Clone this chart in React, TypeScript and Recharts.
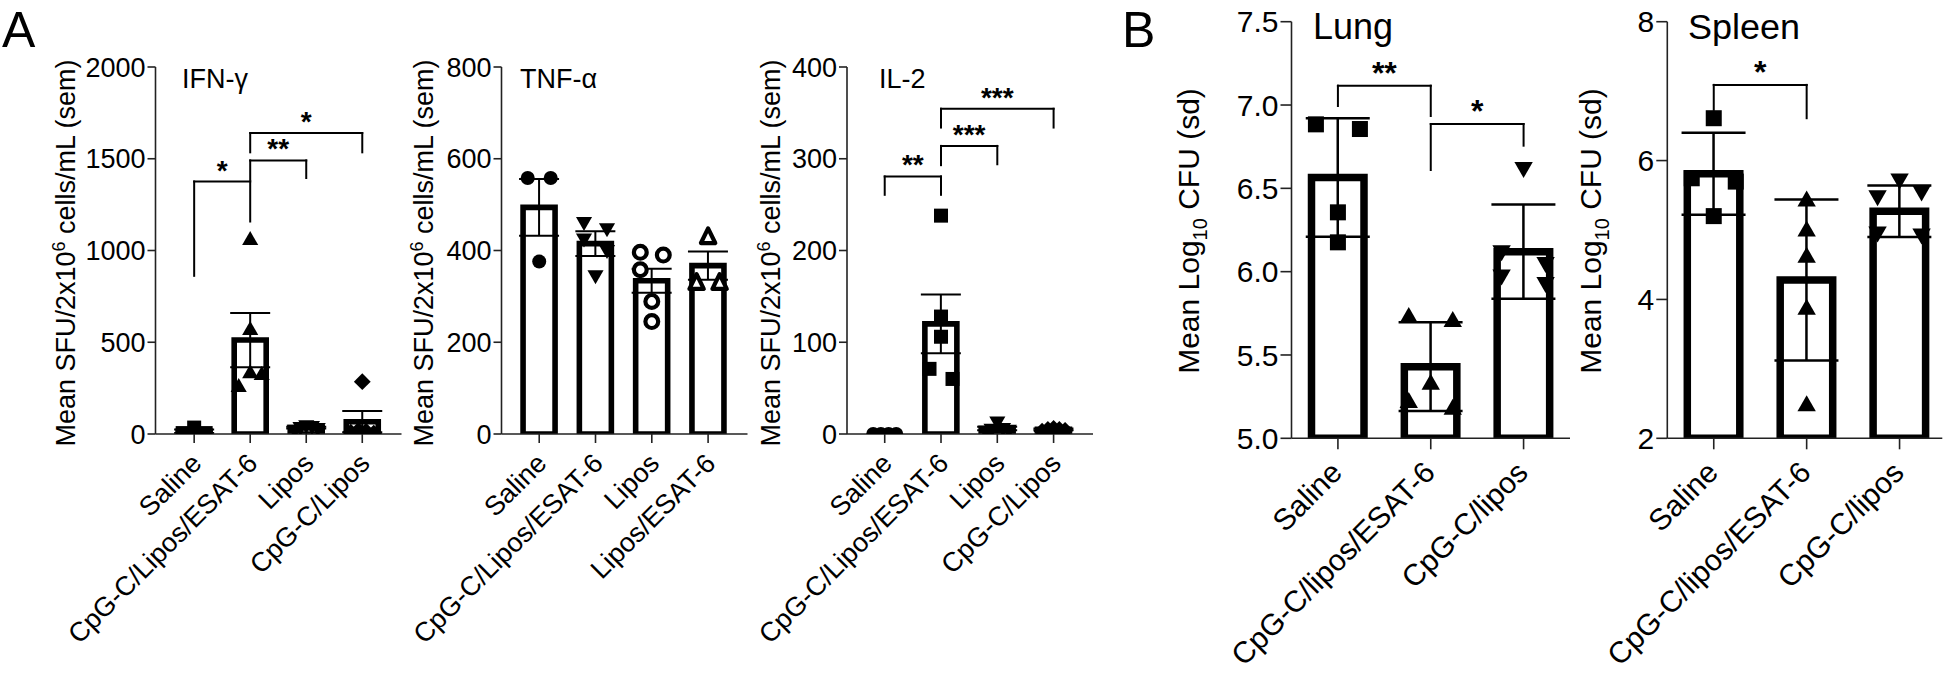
import React from 'react';
import { ComposedChart, Bar, ErrorBar, Scatter, XAxis, YAxis, ReferenceLine } from 'recharts';

const FONT = '"Liberation Sans", Arial, Helvetica, sans-serif';
const PAGE_H = 674;

// ---------------- data ----------------
const ifnCategories = ['Saline', 'CpG-C/Lipos/ESAT-6', 'Lipos', 'CpG-C/Lipos'];
const ifnMeans = [15, 512, 35, 67];
const ifnSem = [10, 148, 5, 58];
const ifnPoints = [[35, 5, 5], [1060, 570, 335, 325, 260], [45, 40, 30, 20, 35], [285, 20, 10, 5, 15]];
const ifnMarkers = ['square', 'triangle', 'triangleDown', 'diamond'];
const ifnTicks = [0, 500, 1000, 1500, 2000];

const tnfCategories = ['Saline', 'CpG-C/Lipos/ESAT-6', 'Lipos', 'Lipos/ESAT-6'];
const tnfMeans = [494, 415, 334, 367];
const tnfSem = [62, 27, 26, 31];
const tnfPoints = [[558, 558, 376], [461, 447, 425, 400, 345], [396, 390, 358, 289, 245], [430, 330, 330]];
const tnfMarkers = ['circle', 'triangleDown', 'circleOpen', 'triangleOpen'];
const tnfTicks = [0, 200, 400, 600, 800];

const il2Categories = ['Saline', 'CpG-C/Lipos/ESAT-6', 'Lipos', 'CpG-C/Lipos'];
const il2Means = [0, 120, 6, 5];
const il2Sem = [0, 32, 2, 1];
const il2Points = [[0, 0, 0, 0], [238, 128, 106, 71, 60], [13, 6, 5, 4, 3], [5, 6, 4, 5, 3]];
const il2Markers = ['circle', 'square', 'triangleDown', 'diamond'];
const il2Ticks = [0, 100, 200, 300, 400];

const lungCategories = ['Saline', 'CpG-C/lipos/ESAT-6', 'CpG-C/lipos'];
const lungMeans = [6.565, 5.43, 6.12];
const lungSd = [0.356, 0.266, 0.283];
const lungPoints = [[6.884, 6.856, 6.356, 6.176], [5.73, 5.706, 5.33, 5.22, 5.18], [6.62, 6.12, 6.05, 5.974, 5.93]];
const lungMarkers = ['square', 'triangle', 'triangleDown'];
const lungTicks = [5.0, 5.5, 6.0, 6.5, 7.0, 7.5];

const spleenCategories = ['Saline', 'CpG-C/lipos/ESAT-6', 'CpG-C/lipos'];
const spleenMeans = [5.81, 4.28, 5.27];
const spleenSd = [0.59, 1.16, 0.37];
const spleenPoints = [[6.61, 5.745, 5.697, 5.2], [5.43, 5.0, 4.62, 3.87, 2.48], [5.72, 5.55, 5.48, 4.96, 4.93]];
const spleenMarkers = ['square', 'triangle', 'triangleDown'];
const spleenTicks = [2, 4, 6, 8];

type Bracket = { from: number; to: number; y: number; yFrom: number; yTo: number; label: string };

const ifnBrackets: Bracket[] = [
  { from: 0, to: 1, y: 1376, yFrom: 862, yTo: 1158, label: '*' },
  { from: 1, to: 2, y: 1491, yFrom: 1385, yTo: 1395, label: '**' },
  { from: 1, to: 3, y: 1640, yFrom: 1535, yTo: 1535, label: '*' },
];
const il2Brackets: Bracket[] = [
  { from: 0, to: 1, y: 280.7, yFrom: 260.7, yTo: 260.7, label: '**' },
  { from: 1, to: 2, y: 314, yFrom: 293, yTo: 294, label: '***' },
  { from: 1, to: 3, y: 354.5, yFrom: 334, yTo: 334, label: '***' },
];
const lungBrackets: Bracket[] = [
  { from: 0, to: 1, y: 7.116, yFrom: 6.994, yTo: 6.934, label: '**' },
  { from: 1, to: 2, y: 6.886, yFrom: 6.61, yTo: 6.756, label: '*' },
];
const spleenBrackets: Bracket[] = [
  { from: 0, to: 1, y: 7.09, yFrom: 6.73, yTo: 6.61, label: '*' },
];

// ---------------- helpers ----------------
function swarmOffsets(values: number[], pxPerUnit: number, thr: number, spread: number): number[] {
  const order = values.map((_, i) => i).sort((a, b) => values[b] - values[a]);
  const slot: number[] = new Array(values.length).fill(0);
  const placed: number[] = [];
  const cands = [0, 1, -1, 2, -2, 3, -3, 4, -4];
  for (const i of order) {
    for (const c of cands) {
      const clash = placed.some((j) => slot[j] === c && Math.abs(values[j] - values[i]) * pxPerUnit < thr);
      if (!clash) { slot[i] = c; break; }
    }
    placed.push(i);
  }
  const offsets: number[] = new Array(values.length).fill(0);
  let cluster: number[] = [];
  const flush = () => {
    if (!cluster.length) return;
    const ss = cluster.map((j) => slot[j]);
    const mn = Math.min(...ss);
    const mx = Math.max(...ss);
    cluster.forEach((j) => {
      offsets[j] = mx === mn ? 0 : ((slot[j] - (mn + mx) / 2) / (mx - mn)) * spread;
    });
    cluster = [];
  };
  order.forEach((i, k) => {
    if (k > 0 && Math.abs(values[order[k - 1]] - values[i]) * pxPerUnit >= thr) flush();
    cluster.push(i);
  });
  flush();
  return offsets;
}

function Marker({ cx, cy, kind, s }: { cx: number; cy: number; kind: string; s: number }) {
  const r = s / 2;
  if (kind === 'square') return <rect x={cx - r} y={cy - r} width={s} height={s} fill="#000" />;
  if (kind === 'circle') return <circle cx={cx} cy={cy} r={r} fill="#000" />;
  if (kind === 'circleOpen') {
    const sw = s * 0.3;
    return <circle cx={cx} cy={cy} r={r + 1.5 - sw / 2} fill="#fff" stroke="#000" strokeWidth={sw} />;
  }
  if (kind === 'diamond') {
    const d = r * 1.2;
    return <polygon points={`${cx},${cy - d} ${cx + d},${cy} ${cx},${cy + d} ${cx - d},${cy}`} fill="#000" />;
  }
  const w = r * 1.15;
  const h = s * 1.0;
  if (kind === 'triangle') {
    return <polygon points={`${cx},${cy - h * 0.6} ${cx + w},${cy + h * 0.4} ${cx - w},${cy + h * 0.4}`} fill="#000" />;
  }
  if (kind === 'triangleDown') {
    return <polygon points={`${cx},${cy + h * 0.6} ${cx + w},${cy - h * 0.4} ${cx - w},${cy - h * 0.4}`} fill="#000" />;
  }
  const sw = s * 0.3;
  const w2 = w * 1.15;
  return (
    <polygon
      points={`${cx},${cy - h * 0.6} ${cx + w2 - sw / 2},${cy + h * 0.45} ${cx - w2 + sw / 2},${cy + h * 0.45}`}
      fill="#fff" stroke="#000" strokeWidth={sw} strokeLinejoin="round"
    />
  );
}

type PanelProps = {
  plotLeft: number; plotTop: number; plotWidth: number; plotHeight: number;
  xDomain: [number, number]; yDomain: [number, number]; yTicks: number[];
  yFmt: (v: number) => string;
  categories: string[]; means: number[]; errs: number[]; points: number[][]; markers: string[];
  brackets: Bracket[];
  barSize: number; barStroke: number; capWidth: number; errStroke: number;
  markerSize: number; swarmThr: number; swarmSpread: number;
  yTickSize: number; xTickSize: number; yTickFont: number; xTickFont: number;
  xLabelDx: number; xLabelDy: number;
  yLabel: React.ReactNode; yLabelX: number; yLabelY: number; yLabelFont: number;
  title: string; titleX: number; titleY: number; titleFont: number;
  starFont: number; starGap: number;
  letter?: { text: string; x: number; y: number; size: number };
};

function Panel(p: PanelProps) {
  const barData = p.means.map((m, i) => ({ x: i, mean: m, err: p.errs[i] }));
  const pxPerY = p.plotHeight / (p.yDomain[1] - p.yDomain[0]);
  const pxPerX = p.plotWidth / (p.xDomain[1] - p.xDomain[0]);
  const scatterData = p.points.flatMap((vals, i) => {
    const offs = swarmOffsets(vals, pxPerY, p.swarmThr, p.swarmSpread);
    return vals.map((v, k) => ({ x: i + offs[k] / pxPerX, y: v, kind: p.markers[i] }));
  });
  const YW = 60;
  const XH = 30;
  const width = p.plotLeft + p.plotWidth + 40;
  const margin = {
    top: p.plotTop,
    right: 40,
    left: p.plotLeft - YW,
    bottom: PAGE_H - p.plotTop - p.plotHeight - XH,
  };
  const xTicks = p.categories.map((_, i) => i);
  const axisStroke = '#222';

  const renderXTick = (props: any) => {
    const { x, y, payload } = props;
    const label = p.categories[Math.round(payload.value)];
    return (
      <text
        x={0} y={0}
        transform={`translate(${x + p.xLabelDx},${y + p.xLabelDy}) rotate(-45)`}
        textAnchor="end" fontSize={p.xTickFont} fontFamily={FONT} fill="#000"
      >
        {label}
      </text>
    );
  };

  const renderLabels = () => (
    <g>
      <text
        transform={`translate(${p.yLabelX},${p.yLabelY}) rotate(-90)`}
        textAnchor="middle" fontSize={p.yLabelFont} fontFamily={FONT} fill="#000"
        style={{ whiteSpace: 'pre' }}
      >
        {p.yLabel}
      </text>
      <text x={p.titleX} y={p.titleY} fontSize={p.titleFont} fontFamily={FONT} fill="#000">{p.title}</text>
      {p.letter ? (
        <text x={p.letter.x} y={p.letter.y} fontSize={p.letter.size} fontFamily={FONT} fill="#000">{p.letter.text}</text>
      ) : null}
    </g>
  );

  return (
    <div style={{ position: 'absolute', left: 0, top: 0 }}>
      <ComposedChart width={width} height={PAGE_H} data={barData} margin={margin}>
        <XAxis
          dataKey="x" type="number" domain={p.xDomain} ticks={xTicks} interval={0}
          allowDataOverflow height={XH}
          tickSize={p.xTickSize} tickMargin={0}
          tick={renderXTick}
          axisLine={{ stroke: axisStroke, strokeWidth: 1.6 }}
          tickLine={{ stroke: axisStroke, strokeWidth: 1.6 }}
        />
        <XAxis xAxisId="s" dataKey="x" type="number" domain={p.xDomain} allowDataOverflow hide />
        <YAxis
          type="number" domain={p.yDomain} ticks={p.yTicks} interval={0} allowDataOverflow
          width={YW} tickSize={p.yTickSize} tickMargin={2}
          tickFormatter={p.yFmt}
          tick={{ fontSize: p.yTickFont, fontFamily: FONT, fill: '#000' }}
          axisLine={{ stroke: axisStroke, strokeWidth: 1.6 }}
          tickLine={{ stroke: axisStroke, strokeWidth: 1.6 }}
          label={renderLabels}
        />
        <Bar
          dataKey="mean" barSize={p.barSize} fill="#fff" stroke="#000" strokeWidth={p.barStroke}
          isAnimationActive={false}
        >
          <ErrorBar dataKey="err" width={p.capWidth} stroke="#000" strokeWidth={p.errStroke} direction="y" />
        </Bar>
        <Scatter
          xAxisId="s" data={scatterData} dataKey="y" isAnimationActive={false}
          shape={(sp: any) => <Marker cx={sp.cx} cy={sp.cy} kind={sp.payload.kind} s={p.markerSize} />}
        />
        {p.brackets.map((b, bi) => (
          <ReferenceLine
            key={`l${bi}`} segment={[{ x: b.from, y: b.yFrom }, { x: b.from, y: b.y }]}
            stroke="#000" strokeWidth={2} strokeLinecap="square" ifOverflow="visible"
          />
        ))}
        {p.brackets.map((b, bi) => (
          <ReferenceLine
            key={`r${bi}`} segment={[{ x: b.to, y: b.yTo }, { x: b.to, y: b.y }]}
            stroke="#000" strokeWidth={2} strokeLinecap="square" ifOverflow="visible"
          />
        ))}
        {p.brackets.map((b, bi) => (
          <ReferenceLine
            key={`h${bi}`} segment={[{ x: b.from, y: b.y }, { x: b.to, y: b.y }]}
            stroke="#000" strokeWidth={2} strokeLinecap="square" ifOverflow="visible"
            label={(lp: any) => {
              const vb = lp.viewBox || {};
              return (
                <text
                  x={vb.x + (vb.width || 0) / 2} y={vb.y - p.starGap} textAnchor="middle"
                  fontSize={p.starFont} fontWeight="bold" fontFamily={FONT} fill="#000"
                >
                  {b.label}
                </text>
              );
            }}
          />
        ))}
      </ComposedChart>
    </div>
  );
}

const aLabel = (
  <>
    <tspan>Mean SFU/2x10</tspan>
    <tspan dy={-10} fontSize={18}>6</tspan>
    <tspan dy={10}> cells/mL (sem)</tspan>
  </>
);
const bLabel = (
  <>
    <tspan>Mean Log</tspan>
    <tspan dy={8} fontSize={20}>10</tspan>
    <tspan dy={-8}> CFU (sd)</tspan>
  </>
);

const commonA = {
  plotTop: 67, plotHeight: 367, plotWidth: 246,
  barSize: 32, barStroke: 5.6, capWidth: 20, errStroke: 2,
  markerSize: 14, swarmThr: 15, swarmSpread: 23,
  yTickSize: 8, xTickSize: 9, yTickFont: 27, xTickFont: 27,
  xLabelDx: 9, xLabelDy: 22,
  yLabel: aLabel, yLabelY: 253, yLabelFont: 27,
  titleY: 88, titleFont: 27, starFont: 28, starGap: 2,
  yFmt: (v: number) => String(v),
};
const commonB = {
  plotTop: 21.7, plotHeight: 416.6,
  barSize: 52.5, barStroke: 7.5, capWidth: 32, errStroke: 2.5,
  markerSize: 16, swarmThr: 17, swarmSpread: 44,
  yTickSize: 11, xTickSize: 11, yTickFont: 30, xTickFont: 30,
  xLabelDx: 6, xLabelDy: 25,
  yLabel: bLabel, yLabelY: 231, yLabelFont: 30,
  titleY: 39, titleFont: 36, starFont: 32, starGap: 2,
};

export default function App() {
  return (
    <div style={{ position: 'absolute', left: 0, top: 0, width: 1950, height: PAGE_H, background: '#fff', overflow: 'hidden' }}>
      <Panel
        {...commonA}
        plotLeft={155.5} xDomain={[-0.69, 3.7]} yDomain={[0, 2000]} yTicks={ifnTicks}
        categories={ifnCategories} means={ifnMeans} errs={ifnSem} points={ifnPoints} markers={ifnMarkers}
        brackets={ifnBrackets}
        yLabelX={75} title="IFN-γ" titleX={182}
        letter={{ text: 'A', x: 2, y: 47, size: 50 }}
      />
      <Panel
        {...commonA}
        plotLeft={501.5} xDomain={[-0.67, 3.7]} yDomain={[0, 800]} yTicks={tnfTicks}
        categories={tnfCategories} means={tnfMeans} errs={tnfSem} points={tnfPoints} markers={tnfMarkers}
        brackets={[]}
        yLabelX={433} title="TNF-α" titleX={520}
      />
      <Panel
        {...commonA}
        plotLeft={847} xDomain={[-0.67, 3.7]} yDomain={[0, 400]} yTicks={il2Ticks}
        categories={il2Categories} means={il2Means} errs={il2Sem} points={il2Points} markers={il2Markers}
        brackets={il2Brackets}
        yLabelX={780} title="IL-2" titleX={879}
      />
      <Panel
        {...commonB}
        plotLeft={1291.5} plotWidth={278.5} xDomain={[-0.5, 2.5]} yDomain={[5, 7.5]} yTicks={lungTicks}
        yFmt={(v: number) => v.toFixed(1)}
        categories={lungCategories} means={lungMeans} errs={lungSd} points={lungPoints} markers={lungMarkers}
        brackets={lungBrackets}
        yLabelX={1199} title="Lung" titleX={1313}
        letter={{ text: 'B', x: 1122, y: 47, size: 50 }}
      />
      <Panel
        {...commonB}
        plotLeft={1667.3} plotWidth={275} xDomain={[-0.5, 2.46]} yDomain={[2, 8]} yTicks={spleenTicks}
        yFmt={(v: number) => String(v)}
        categories={spleenCategories} means={spleenMeans} errs={spleenSd} points={spleenPoints} markers={spleenMarkers}
        brackets={spleenBrackets}
        yLabelX={1601} title="Spleen" titleX={1688}
      />
    </div>
  );
}
